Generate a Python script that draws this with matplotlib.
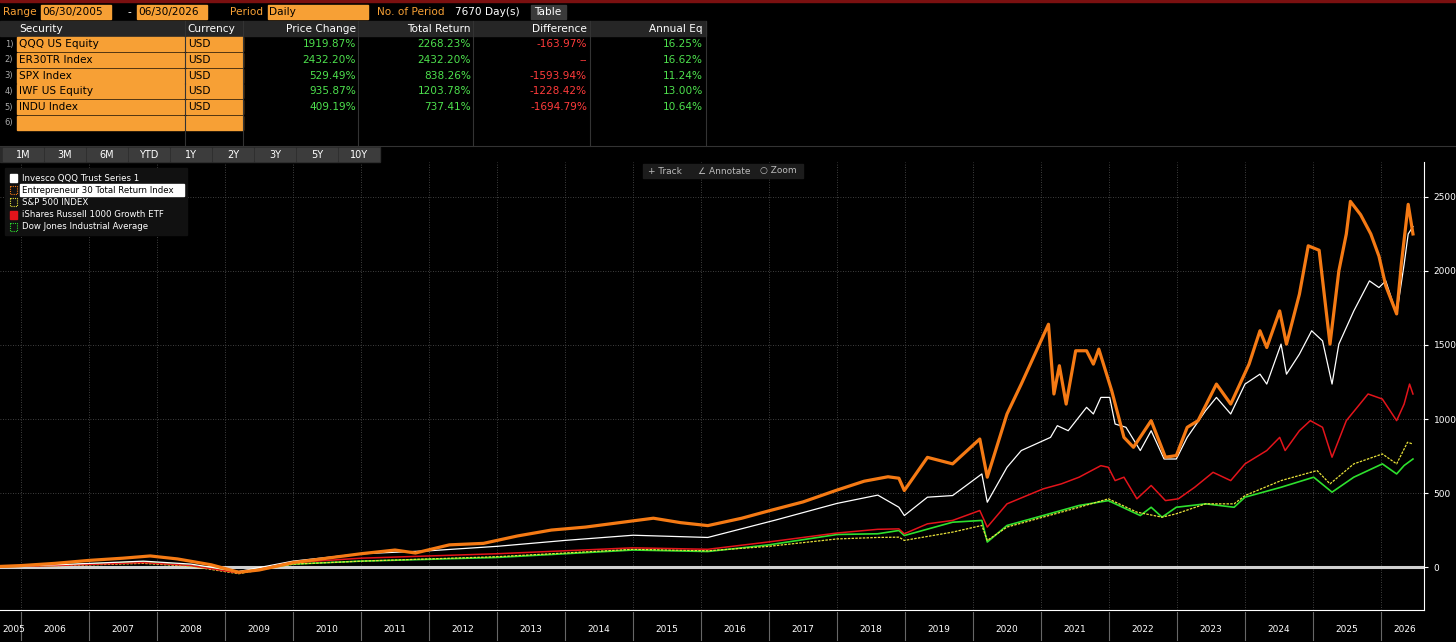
import matplotlib
matplotlib.use('Agg')
import matplotlib.pyplot as plt
from matplotlib.patches import Rectangle

plt.rcParams['font.family'] = ['DejaVu Sans']

# ---- table data ----
securities = ['QQQ US Equity', 'ER30TR Index', 'SPX Index', 'IWF US Equity', 'INDU Index']
price_change = ['1919.87%', '2432.20%', '529.49%', '935.87%', '409.19%']
total_return = ['2268.23%', '2432.20%', '838.26%', '1203.78%', '737.41%']
difference = ['-163.97%', '--', '-1593.94%', '-1228.42%', '-1694.79%']
annual_eq = ['16.25%', '16.62%', '11.24%', '13.00%', '10.64%']
buttons = ['1M', '3M', '6M', 'YTD', '1Y', '2Y', '3Y', '5Y', '10Y']
legend_names = ['Invesco QQQ Trust Series 1', 'Entrepreneur 30 Total Return Index',
                'S&P 500 INDEX', 'iShares Russell 1000 Growth ETF', 'Dow Jones Industrial Average']
years = list(range(2005, 2027))

# ---- series (time in years, cumulative return %) ----
er30_t = [2005.45, 2006.0, 2006.5, 2007.0, 2007.5, 2007.9, 2008.3, 2008.8, 2009.2, 2009.5, 2010.0, 2010.5,
          2011.0, 2011.5, 2011.8, 2012.3, 2012.8, 2013.3, 2013.8, 2014.3, 2014.8, 2015.3, 2015.7, 2016.1,
          2016.6, 2017.0, 2017.5, 2018.0, 2018.4, 2018.75, 2018.91, 2018.99, 2019.33, 2019.70, 2020.10,
          2020.21, 2020.50, 2020.71, 2021.11, 2021.19, 2021.27, 2021.37, 2021.51, 2021.67, 2021.77, 2021.85,
          2022.04, 2022.22, 2022.36, 2022.62, 2022.83, 2022.99, 2023.15, 2023.31, 2023.58, 2023.79, 2024.06,
          2024.22, 2024.32, 2024.51, 2024.61, 2024.80, 2024.93, 2025.09, 2025.25, 2025.38, 2025.49, 2025.55,
          2025.70, 2025.85, 2025.97, 2026.07, 2026.23, 2026.30, 2026.40, 2026.47]
er30_v = [0, 10, 25, 45, 60, 75, 55, 15, -35, -20, 30, 60,
          90, 115, 95, 150, 160, 210, 250, 270, 300, 330, 300, 280,
          330, 380, 440, 520, 580, 610, 600, 517, 741, 697, 865,
          607, 1034, 1236, 1640, 1169, 1360, 1101, 1461, 1461, 1371, 1472,
          1191, 876, 809, 989, 742, 753, 944, 989, 1236, 1101, 1371,
          1596, 1483, 1730, 1506, 1843, 2170, 2140, 1506, 2000, 2250, 2470,
          2380, 2250, 2100, 1900, 1710, 2050, 2450, 2250]

qqq_t = [2005.45, 2006.5, 2007.8, 2008.5, 2009.2, 2010.0, 2011.0, 2012.0, 2013.0, 2014.0, 2015.0, 2016.1,
         2017.1, 2018.0, 2018.6, 2018.91, 2018.99, 2019.33, 2019.70, 2020.13, 2020.21, 2020.50, 2020.71,
         2021.14, 2021.24, 2021.40, 2021.67, 2021.77, 2021.88, 2022.01, 2022.09, 2022.25, 2022.46, 2022.62,
         2022.81, 2022.99, 2023.15, 2023.42, 2023.58, 2023.79, 2024.00, 2024.22, 2024.32, 2024.53, 2024.61,
         2024.80, 2024.98, 2025.14, 2025.28, 2025.38, 2025.60, 2025.83, 2025.97, 2026.07, 2026.23, 2026.34,
         2026.40, 2026.47]
qqq_v = [0, 15, 40, 20, -30, 40, 90, 110, 140, 180, 215, 200,
         318, 430, 486, 404, 348, 472, 483, 629, 438, 674, 787,
         876, 955, 921, 1079, 1034, 1146, 1146, 966, 944, 787, 921,
         730, 730, 876, 1056, 1146, 1034, 1236, 1303, 1236, 1506, 1303,
         1438, 1596, 1528, 1236, 1506, 1730, 1933, 1888, 1933, 1708, 2045,
         2250, 2300]

iwf_t = [2005.45, 2006.5, 2007.8, 2008.5, 2009.2, 2010.0, 2011.0, 2013.0, 2015.0, 2016.1, 2017.0, 2018.0,
         2018.6, 2018.91, 2018.99, 2019.33, 2019.70, 2020.10, 2020.21, 2020.50, 2021.03, 2021.30, 2021.56,
         2021.88, 2021.99, 2022.09, 2022.22, 2022.41, 2022.62, 2022.83, 2023.02, 2023.26, 2023.53, 2023.79,
         2024.00, 2024.32, 2024.51, 2024.59, 2024.80, 2024.96, 2025.14, 2025.28, 2025.49, 2025.81, 2026.02,
         2026.23, 2026.34, 2026.42, 2026.47]
iwf_v = [0, 10, 30, 10, -40, 30, 60, 90, 130, 120, 170, 230,
         255, 258, 225, 292, 315, 382, 270, 427, 528, 562, 607,
         685, 674, 584, 607, 461, 551, 449, 461, 539, 640, 584,
         697, 787, 876, 787, 921, 989, 944, 742, 989, 1169, 1135,
         989, 1101, 1236, 1169]

spx_t = [2005.45, 2006.5, 2007.8, 2008.5, 2009.2, 2010.0, 2011.0, 2013.0, 2015.0, 2016.1, 2017.0, 2018.0,
         2018.6, 2018.91, 2018.99, 2019.70, 2020.13, 2020.21, 2020.50, 2021.03, 2021.56, 2021.99, 2022.41,
         2022.78, 2022.99, 2023.42, 2023.84, 2024.00, 2024.53, 2025.06, 2025.25, 2025.60, 2026.02, 2026.23,
         2026.39, 2026.47]
spx_v = [0, 8, 25, 5, -45, 20, 40, 70, 120, 110, 140, 190,
         200, 202, 180, 236, 281, 180, 270, 337, 404, 461, 371,
         337, 360, 427, 427, 483, 584, 652, 562, 697, 764, 697,
         843, 831]

indu_t = [2005.45, 2006.5, 2007.8, 2008.5, 2009.2, 2010.0, 2011.0, 2013.0, 2015.0, 2016.1, 2017.0, 2018.0,
          2018.6, 2018.91, 2018.99, 2019.70, 2020.13, 2020.21, 2020.50, 2021.03, 2021.56, 2021.99, 2022.46,
          2022.62, 2022.78, 2022.99, 2023.42, 2023.84, 2024.00, 2024.53, 2025.01, 2025.28, 2025.60, 2026.02,
          2026.23, 2026.34, 2026.47]
indu_v = [0, 12, 35, 10, -35, 20, 40, 65, 115, 105, 150, 220,
          225, 247, 213, 303, 315, 169, 281, 348, 416, 449, 348,
          404, 337, 404, 427, 404, 472, 539, 607, 506, 607, 697,
          629, 686, 730]

W, H = 1456, 642
PX_YR = 68.0
fig = plt.figure(figsize=(W / 100, H / 100), dpi=100, facecolor='black')

# ---- decoration layer in pixel coords ----
deco = fig.add_axes([0, 0, 1, 1])
deco.set_xlim(0, W)
deco.set_ylim(H, 0)
deco.axis('off')
orange = '#f7a035'
fs = 7.6
deco.add_patch(Rectangle((0, 0), W, 1.5, color='#7a1010'))
deco.text(3, 12, 'Range', color=orange, fontsize=fs, va='center')
for x0, x1, s in [(41, 111, '06/30/2005'), (137, 207, '06/30/2026'), (268, 368, 'Daily')]:
    deco.add_patch(Rectangle((x0, 5), x1 - x0, 14, color=orange))
    deco.text(x0 + 1, 12, s, color='black', fontsize=fs, va='center')
deco.text(127, 12, '-', color='white', fontsize=fs, va='center')
deco.text(230, 12, 'Period', color=orange, fontsize=fs, va='center')
deco.text(377, 12, 'No. of Period', color=orange, fontsize=fs, va='center')
deco.text(455, 12, '7670 Day(s)', color='white', fontsize=fs, va='center')
deco.add_patch(Rectangle((531, 5), 35, 14, color='#3a3a3a'))
deco.text(548, 12, 'Table', color='white', fontsize=fs, va='center', ha='center')

deco.add_patch(Rectangle((0, 21), 706, 15, color='#262626'))
deco.text(19, 29, 'Security', color='white', fontsize=fs, va='center')
deco.text(187, 29, 'Currency', color='white', fontsize=fs, va='center')
for xr, s in [(356, 'Price Change'), (471, 'Total Return'), (587, 'Difference'), (703, 'Annual Eq')]:
    deco.text(xr, 29, s, color='white', fontsize=fs, va='center', ha='right')
for xs in [185, 243, 358, 473, 590, 706]:
    deco.plot([xs, xs], [21, 146], color='#333333', lw=0.8)
deco.plot([0, W], [146, 146], color='#333333', lw=0.8)
for i in range(6):
    yc = 44 + i * 15.8
    deco.text(9, yc, f'{i + 1})', color='#aaaaaa', fontsize=6, va='center', ha='center')
    deco.add_patch(Rectangle((17, yc - 7), 167, 14, color=orange))
    deco.add_patch(Rectangle((186, yc - 7), 57, 14, color=orange))
    if i < 5:
        deco.text(19, yc, securities[i], color='black', fontsize=fs, va='center')
        deco.text(188, yc, 'USD', color='black', fontsize=fs, va='center')
        deco.text(356, yc, price_change[i], color='#4de04d', fontsize=fs, va='center', ha='right')
        deco.text(471, yc, total_return[i], color='#4de04d', fontsize=fs, va='center', ha='right')
        deco.text(587, yc, difference[i], color='#ff3b3b', fontsize=fs, va='center', ha='right')
        deco.text(703, yc, annual_eq[i], color='#4de04d', fontsize=fs, va='center', ha='right')

deco.add_patch(Rectangle((0, 147), 380, 15, color='#2a2a2a'))
for i, b in enumerate(buttons):
    deco.add_patch(Rectangle((3 + i * 42, 148), 40, 13, color='#3c3c3c'))
    deco.text(23 + i * 42, 155, b, color='white', fontsize=7, va='center', ha='center')

deco.add_patch(Rectangle((643, 164), 160, 14, color='#1c1c1c'))
for x, s in [(648, '+ Track'), (698, '∠ Annotate'), (760, '○ Zoom')]:
    deco.text(x, 171, s, color='#bbbbbb', fontsize=6.5, va='center')

# ---- chart ----
y0, y1 = 162, 610
ax = fig.add_axes([0, (H - y1) / H, 1424 / W, (y1 - y0) / H], facecolor='black', zorder=0)
deco.set_zorder(1)
deco.patch.set_alpha(0)
ax.set_xlim(2020 - 973 / PX_YR, 2020 + (1424 - 973) / PX_YR)
ax.set_ylim(-290, 2736)
for yr in years:
    ax.axvline(yr, color='#555555', lw=0.6, ls=(0, (1, 2)))
for v in [500, 1000, 1500, 2000, 2500]:
    ax.axhline(v, color='#555555', lw=0.6, ls=(0, (1, 2)))
ax.axhline(0, color='#d0d0d0', lw=2.2)
ax.plot(indu_t, indu_v, color='#2ee02e', lw=1.2)
ax.plot(spx_t, spx_v, color='#e8e23a', lw=0.9, ls=(0, (2, 1)))
ax.plot(iwf_t, iwf_v, color='#e3141b', lw=1.1)
ax.plot(qqq_t, qqq_v, color='white', lw=0.9)
ax.plot(er30_t, er30_v, color='#f57a14', lw=2.3)

ax.yaxis.tick_right()
ax.set_yticks([0, 500, 1000, 1500, 2000, 2500])
ax.tick_params(axis='y', colors='white', labelsize=6.5, length=3, pad=4)
ax.set_xticks([])
for s in ['top', 'left']:
    ax.spines[s].set_visible(False)
ax.spines['right'].set_color('white')
ax.spines['bottom'].set_color('white')

# year labels strip
for yr in years:
    xp = 973 + (yr - 2020) * PX_YR
    if 0 < xp < 1424:
        deco.plot([xp, xp], [612, 640], color='#666666', lw=0.8)
    xc = min(max(xp + PX_YR / 2, 14), 1405)
    deco.text(xc, 630, str(yr), color='white', fontsize=6.5, ha='center', va='center')

# legend box
deco.add_patch(Rectangle((5, 168), 182, 67, color='#111111'))
leg_cols = ['white', '#f57a14', '#e8e23a', '#e3141b', '#2ee02e']
for i, (n, c) in enumerate(zip(legend_names, leg_cols)):
    yc = 178 + i * 12.2
    if i in (0, 3):
        deco.add_patch(Rectangle((10, yc - 4), 7, 8, color=c))
    else:
        deco.add_patch(Rectangle((10, yc - 4), 7, 8, fill=False, ec=c, lw=0.8, ls=(0, (1, 1))))
    if i == 1:
        deco.add_patch(Rectangle((20, yc - 6), 164, 12, color='white'))
        deco.text(22, yc, n, color='black', fontsize=6.2, va='center')
    else:
        deco.text(22, yc, n, color='white', fontsize=6.2, va='center')

fig.savefig('out.png', dpi=100, facecolor='black')
